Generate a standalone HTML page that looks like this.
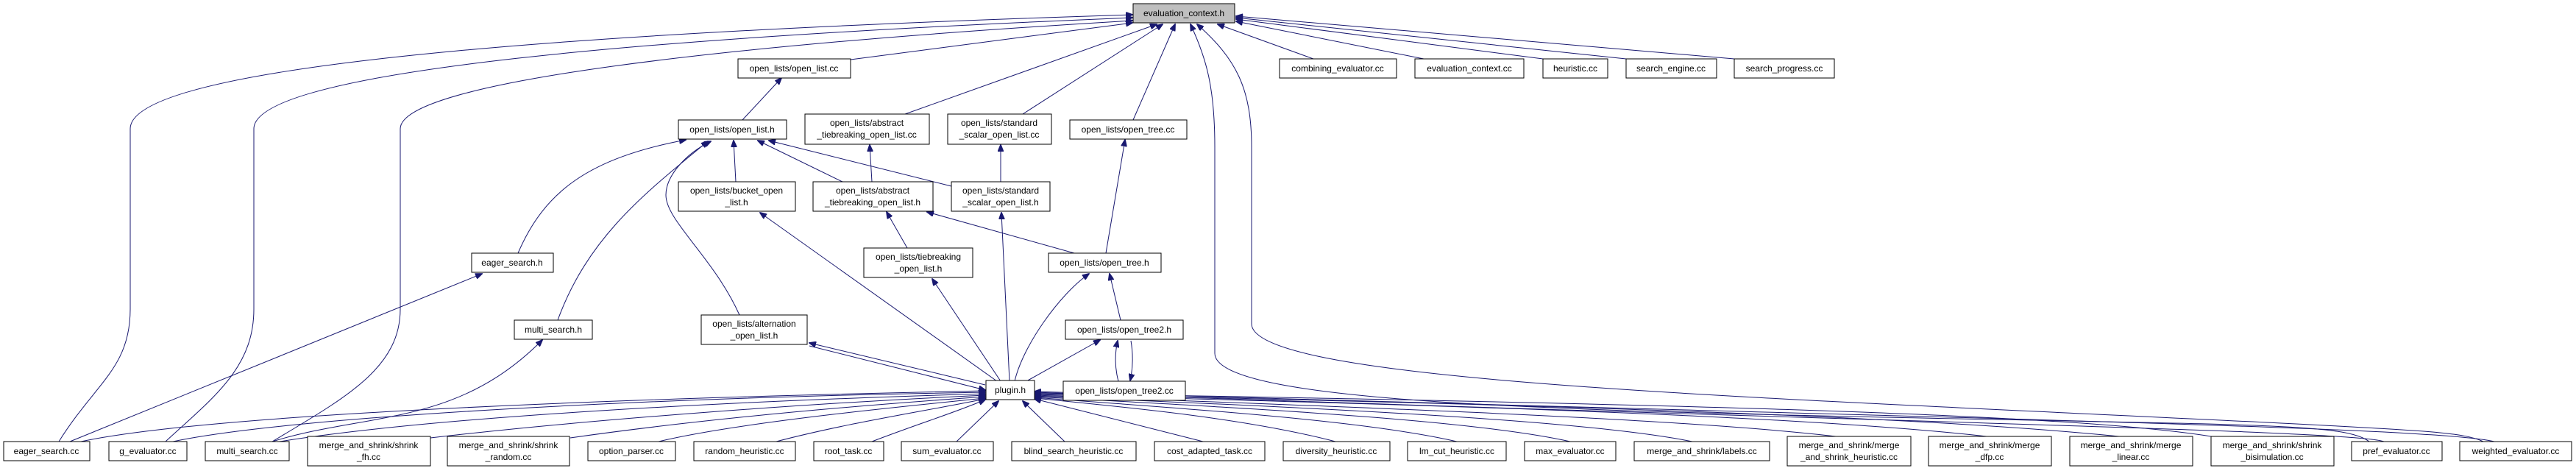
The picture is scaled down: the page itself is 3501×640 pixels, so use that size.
<!DOCTYPE html>
<html><head><meta charset="utf-8"><style>
html,body{margin:0;padding:0;background:#fff;}
svg{display:block}
text{font-family:"Liberation Sans",sans-serif;font-size:12px;fill:#000;text-anchor:middle}
rect{fill:#fff;stroke:#000;stroke-width:1}
path{fill:none;stroke:#191970;stroke-width:1}
</style></head><body>
<svg width="3501" height="640" viewBox="0 0 3501 640" xmlns="http://www.w3.org/2000/svg">
<defs><marker id="a" markerWidth="10" markerHeight="8" refX="9" refY="4" orient="auto" markerUnits="userSpaceOnUse"><polygon points="0,0 10,4 0,8" fill="#191970" stroke="#191970"/></marker></defs>
<g marker-end="url(#a)">
<path d="M80,600 C130,520 177,500 177,420 L177,175 C177,80 900,40 1539,20"/>
<path d="M225,600 C290,540 345,500 345,420 L345,175 C345,95 900,50 1539,24"/>
<path d="M370,600 C470,540 544,500 544,420 L544,175 C544,110 1000,60 1539,28"/>
<path d="M1156,81 L1539,31"/>
<path d="M1230,155 L1572,33"/>
<path d="M1390,155 L1580,33"/>
<path d="M1540,163 L1597,33"/>
<path d="M3220,600 C3200,585 3150,580 3000,576 C2300,560 1651,560 1651,480 L1651,200 C1651,120 1640,80 1618,33"/>
<path d="M3375,600 C3350,588 3300,585 3100,575 C2400,540 1701,520 1701,440 L1701,200 C1701,120 1680,80 1627,33"/>
<path d="M1785,80 L1655,33"/>
<path d="M1935,80 L1680,29"/>
<path d="M2097,80 L1680,26"/>
<path d="M2210,80 L1680,24"/>
<path d="M2357,80 L1680,22"/>
<path d="M1009,163 L1062,106"/>
<path d="M704,344 C740,260 800,215 932,190"/>
<path d="M758,435 C800,320 880,260 962,192"/>
<path d="M1005,428 C970,350 905,300 905,265 C905,240 930,210 966,192"/>
<path d="M1000,247 L997,191"/>
<path d="M1145,247 L1030,191"/>
<path d="M1293,253 L1045,191"/>
<path d="M1185,247 L1182,197"/>
<path d="M1360,247 L1360,197"/>
<path d="M1233,337 L1205,288"/>
<path d="M1460,344 L1260,288"/>
<path d="M1503,344 L1529,190"/>
<path d="M95,600 L655,372"/>
<path d="M370,600 C500,560 620,580 737,462"/>
<path d="M1379,518 C1390,470 1440,400 1480,372"/>
<path d="M1523,435 L1508,372"/>
<path d="M1395,518 L1495,462"/>
<path d="M1520,518 C1515,500 1515,480 1519,463"/>
<path d="M1537,463 C1540,480 1540,500 1536,517"/>
<path d="M1355,518 L1033,289"/>
<path d="M1360,518 L1267,379"/>
<path d="M1372,518 L1361,289"/>
<path d="M1339,523 L1100,466"/>
<path d="M1100,470 L1339,530"/>
<path d="M110,600 C300,560 900,540 1339,531"/>
<path d="M235,600 C400,565 900,540 1339,533"/>
<path d="M380,600 C600,565 1000,545 1339,535"/>
<path d="M585,595 C800,570 1100,548 1339,537"/>
<path d="M775,595 C950,570 1150,552 1339,539"/>
<path d="M895,600 C1000,575 1200,555 1339,541"/>
<path d="M1055,600 C1150,575 1250,560 1339,542"/>
<path d="M1185,600 C1250,575 1300,560 1339,543"/>
<path d="M1300,600 L1357,545"/>
<path d="M1447,600 L1390,545"/>
<path d="M1635,600 L1406,542"/>
<path d="M1815,600 C1700,570 1550,555 1406,541"/>
<path d="M1980,600 C1850,570 1600,555 1406,540"/>
<path d="M2134,600 C2000,570 1700,555 1406,539"/>
<path d="M2300,600 C2150,570 1800,555 1406,538"/>
<path d="M2495,593 C2300,570 1900,555 1406,537"/>
<path d="M2700,593 C2450,565 2000,552 1406,536"/>
<path d="M2880,593 C2600,565 2100,550 1406,535"/>
<path d="M3005,593 C2800,560 2200,548 1406,534"/>
<path d="M3240,600 C3200,585 2600,575 1406,533"/>
<path d="M3390,600 C3300,580 2700,570 1406,532"/>
</g>
<rect x="1540" y="5" width="138" height="26" style="fill:#bfbfbf"/><text x="1609" y="22">evaluation_context.h</text>
<rect x="1003" y="80" width="153" height="26"/><text x="1079" y="97">open_lists/open_list.cc</text>
<rect x="1739" y="80" width="159" height="26"/><text x="1818" y="97">combining_evaluator.cc</text>
<rect x="1923" y="80" width="148" height="26"/><text x="1997" y="97">evaluation_context.cc</text>
<rect x="2097" y="80" width="88" height="26"/><text x="2141" y="97">heuristic.cc</text>
<rect x="2210" y="80" width="123" height="26"/><text x="2271" y="97">search_engine.cc</text>
<rect x="2357" y="80" width="136" height="26"/><text x="2425" y="97">search_progress.cc</text>
<rect x="922" y="163" width="147" height="26"/><text x="995" y="180">open_lists/open_list.h</text>
<rect x="1094" y="155" width="169" height="41"/><text x="1178" y="171">open_lists/abstract</text><text x="1178" y="187">_tiebreaking_open_list.cc</text>
<rect x="1288" y="155" width="141" height="41"/><text x="1358" y="171">open_lists/standard</text><text x="1358" y="187">_scalar_open_list.cc</text>
<rect x="1454" y="163" width="159" height="26"/><text x="1533" y="180">open_lists/open_tree.cc</text>
<rect x="922" y="247" width="159" height="40"/><text x="1001" y="263">open_lists/bucket_open</text><text x="1001" y="279">_list.h</text>
<rect x="1105" y="247" width="163" height="40"/><text x="1186" y="263">open_lists/abstract</text><text x="1186" y="279">_tiebreaking_open_list.h</text>
<rect x="1293" y="247" width="134" height="40"/><text x="1360" y="263">open_lists/standard</text><text x="1360" y="279">_scalar_open_list.h</text>
<rect x="641" y="344" width="111" height="26"/><text x="696" y="361">eager_search.h</text>
<rect x="1174" y="337" width="148" height="40"/><text x="1248" y="353">open_lists/tiebreaking</text><text x="1248" y="369">_open_list.h</text>
<rect x="1425" y="344" width="153" height="26"/><text x="1501" y="361">open_lists/open_tree.h</text>
<rect x="699" y="435" width="106" height="26"/><text x="752" y="452">multi_search.h</text>
<rect x="953" y="428" width="144" height="40"/><text x="1025" y="444">open_lists/alternation</text><text x="1025" y="460">_open_list.h</text>
<rect x="1448" y="435" width="160" height="26"/><text x="1528" y="452">open_lists/open_tree2.h</text>
<rect x="1340" y="517" width="66" height="26"/><text x="1373" y="534">plugin.h</text>
<rect x="1445" y="518" width="166" height="26"/><text x="1528" y="535">open_lists/open_tree2.cc</text>
<rect x="5" y="600" width="117" height="26"/><text x="63" y="617">eager_search.cc</text>
<rect x="148" y="600" width="106" height="26"/><text x="201" y="617">g_evaluator.cc</text>
<rect x="279" y="600" width="114" height="26"/><text x="336" y="617">multi_search.cc</text>
<rect x="418" y="593" width="167" height="40"/><text x="501" y="609">merge_and_shrink/shrink</text><text x="501" y="625">_fh.cc</text>
<rect x="608" y="593" width="166" height="40"/><text x="691" y="609">merge_and_shrink/shrink</text><text x="691" y="625">_random.cc</text>
<rect x="799" y="600" width="119" height="26"/><text x="858" y="617">option_parser.cc</text>
<rect x="943" y="600" width="138" height="26"/><text x="1012" y="617">random_heuristic.cc</text>
<rect x="1106" y="600" width="95" height="26"/><text x="1153" y="617">root_task.cc</text>
<rect x="1225" y="600" width="125" height="26"/><text x="1287" y="617">sum_evaluator.cc</text>
<rect x="1375" y="600" width="169" height="26"/><text x="1459" y="617">blind_search_heuristic.cc</text>
<rect x="1569" y="600" width="150" height="26"/><text x="1644" y="617">cost_adapted_task.cc</text>
<rect x="1744" y="600" width="145" height="26"/><text x="1816" y="617">diversity_heuristic.cc</text>
<rect x="1913" y="600" width="134" height="26"/><text x="1980" y="617">lm_cut_heuristic.cc</text>
<rect x="2072" y="600" width="124" height="26"/><text x="2134" y="617">max_evaluator.cc</text>
<rect x="2221" y="600" width="184" height="26"/><text x="2313" y="617">merge_and_shrink/labels.cc</text>
<rect x="2429" y="593" width="168" height="40"/><text x="2513" y="609">merge_and_shrink/merge</text><text x="2513" y="625">_and_shrink_heuristic.cc</text>
<rect x="2621" y="593" width="167" height="40"/><text x="2704" y="609">merge_and_shrink/merge</text><text x="2704" y="625">_dfp.cc</text>
<rect x="2813" y="593" width="167" height="40"/><text x="2896" y="609">merge_and_shrink/merge</text><text x="2896" y="625">_linear.cc</text>
<rect x="3005" y="593" width="167" height="40"/><text x="3088" y="609">merge_and_shrink/shrink</text><text x="3088" y="625">_bisimulation.cc</text>
<rect x="3196" y="600" width="123" height="26"/><text x="3257" y="617">pref_evaluator.cc</text>
<rect x="3343" y="600" width="152" height="26"/><text x="3419" y="617">weighted_evaluator.cc</text>
</svg>
</body></html>
